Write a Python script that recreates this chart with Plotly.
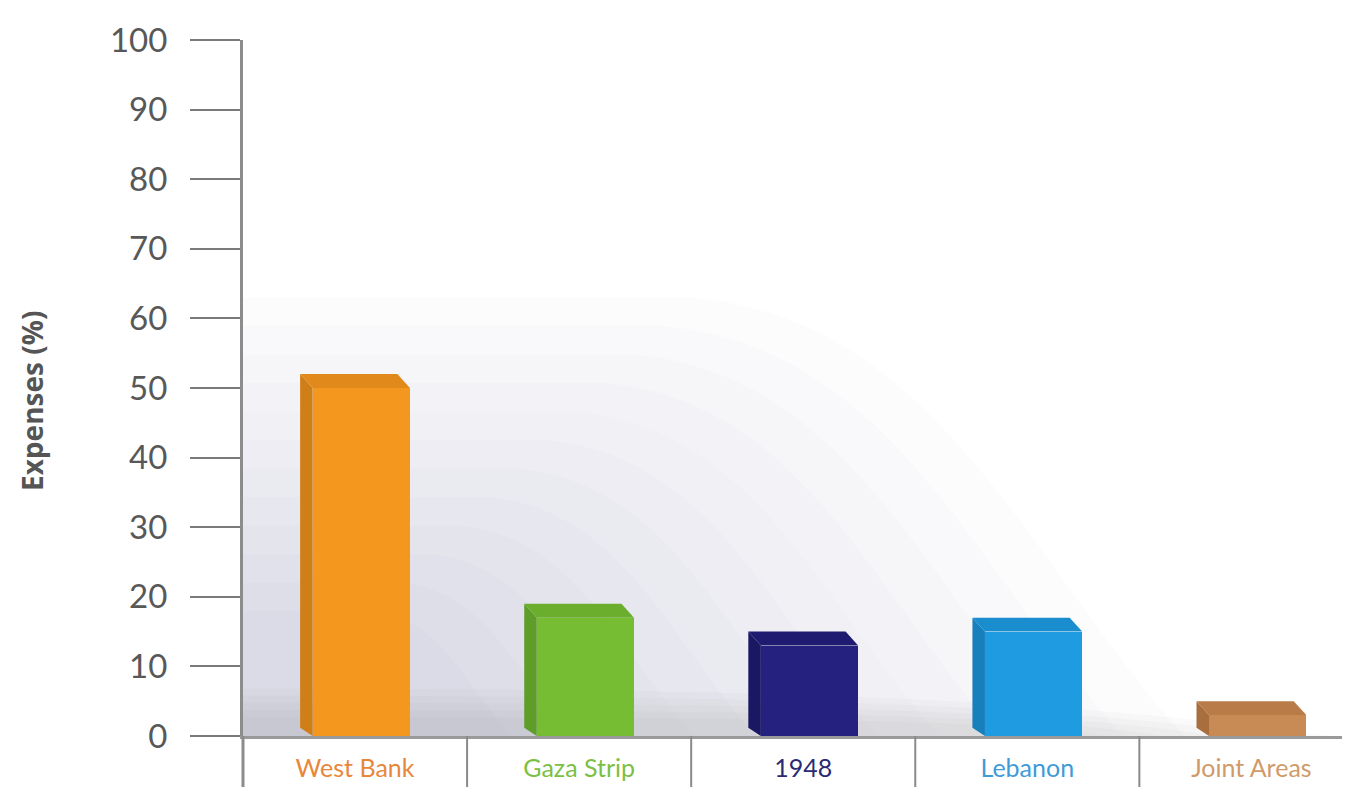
import plotly.graph_objects as go

categories = ["West Bank", "Gaza Strip", "1948", "Lebanon", "Joint Areas"]
expenses = [50, 17, 13, 15, 3]
front_colors = ["#F3971F", "#77BD34", "#25217F", "#1E9BE1", "#C98B55"]
side_colors = ["#D07E17", "#5E9D27", "#1A1763", "#167FBC", "#A86E3D"]
top_colors = ["#E2891B", "#6BAE2D", "#1F1B70", "#1A8DCF", "#B97C48"]
label_colors = ["#E8873A", "#7CBF45", "#2B2A74", "#3F9BD8", "#D09A6A"]
y_ticks = [0, 10, 20, 30, 40, 50, 60, 70, 80, 90, 100]

idx = list(range(len(categories)))
half = 0.245   # half footprint width (category units)
dx = 0.056     # depth offset in x
dy = 2.0       # depth offset in y (value units)

fig = go.Figure()

fig.add_trace(go.Bar(
    x=idx, y=expenses, width=2 * half - dx, offset=-half + dx,
    marker=dict(color=front_colors, line=dict(width=0)),
    showlegend=False, hoverinfo="x+y",
))

shapes = []
# soft gray background glow (decorative)
n_layers = 12
for k in range(n_layers):
    s = 1 - k * 0.065
    h = 63 * s
    x0 = -0.5
    def X(v):
        return x0 + (v - x0) * s
    path = (f"M {x0},0 L {x0},{h} L {X(1.5)},{h} "
            f"C {X(2.6)},{60*s} {X(3.0)},{25*s} {X(3.7)},0 Z")
    shapes.append(dict(type="path", path=path, xref="x", yref="y",
                       fillcolor="rgb(118,120,130)", opacity=0.02,
                       line=dict(width=0), layer="below"))
# floor shadow band
for k in range(5):
    s = 1 - k * 0.15
    h = 6.8 * s
    path = (f"M -0.5,0 L -0.5,{h} C 1.5,{h} 3.0,{h*0.9} {4.35 - k*0.25},0 Z")
    shapes.append(dict(type="path", path=path, xref="x", yref="y",
                       fillcolor="rgb(120,122,132)", opacity=0.04,
                       line=dict(width=0), layer="below"))

# 3D side and top faces computed from the data
for i, v in zip(idx, expenses):
    side = (f"M {i-half+dx},0 L {i-half},{dy*0.6} L {i-half},{v+dy} "
            f"L {i-half+dx},{v} Z")
    shapes.append(dict(type="path", path=side, xref="x", yref="y",
                       fillcolor=side_colors[i], line=dict(width=0)))
    top = (f"M {i-half+dx},{v} L {i+half},{v} L {i+half-dx},{v+dy} "
           f"L {i-half},{v+dy} Z")
    shapes.append(dict(type="path", path=top, xref="x", yref="y",
                       fillcolor=top_colors[i], line=dict(width=0)))

plot_h = 696
below = -60 / plot_h
for i in idx[:-1]:
    shapes.append(dict(type="line", xref="x", yref="paper",
                       x0=i + 0.5, x1=i + 0.5, y0=0, y1=below,
                       line=dict(color="#8a8a8a", width=2)))
shapes.append(dict(type="line", xref="paper", yref="paper",
                   x0=0, x1=0, y0=0, y1=below,
                   line=dict(color="#8c8c8c", width=3)))

fig.update_layout(shapes=shapes)

ticktext = [f"<span style='color:{c}'>{t}</span>" for t, c in zip(categories, label_colors)]

fig.update_xaxes(
    range=[-0.5, 4.44], tickmode="array", tickvals=idx, ticktext=ticktext,
    showgrid=False, zeroline=False, showline=True, linecolor="#9a9a9a",
    linewidth=3, ticks="", tickfont=dict(family="Lato", size=25),
    ticklabelstandoff=8,
)
fig.update_yaxes(
    range=[0, 100], tickmode="array", tickvals=y_ticks,
    showgrid=False, zeroline=False, showline=True, linecolor="#8c8c8c",
    linewidth=3, ticks="outside", ticklen=50, tickwidth=2, tickcolor="#7a7a7a",
    tickfont=dict(family="Lato", size=33, color="#585858"),
    ticklabelstandoff=16,
)

W, H = 1342, 779
L, T = 235, 32
plot_w = W - L
fig.add_annotation(
    text="<b>Expenses (%)</b>", xref="paper", yref="paper",
    x=(32 - 8 - L) / plot_w, y=(736 - 401) / plot_h, showarrow=False,
    textangle=-90, font=dict(family="Open Sans", size=28, color="#555555"),
    xanchor="center", yanchor="middle",
)

fig.update_layout(
    width=W, height=H,
    margin=dict(l=L, r=0, t=T, b=H - T - plot_h, autoexpand=False),
    paper_bgcolor="white", plot_bgcolor="rgba(0,0,0,0)",
    bargap=0, showlegend=False,
)

fig.write_html("out.html")
